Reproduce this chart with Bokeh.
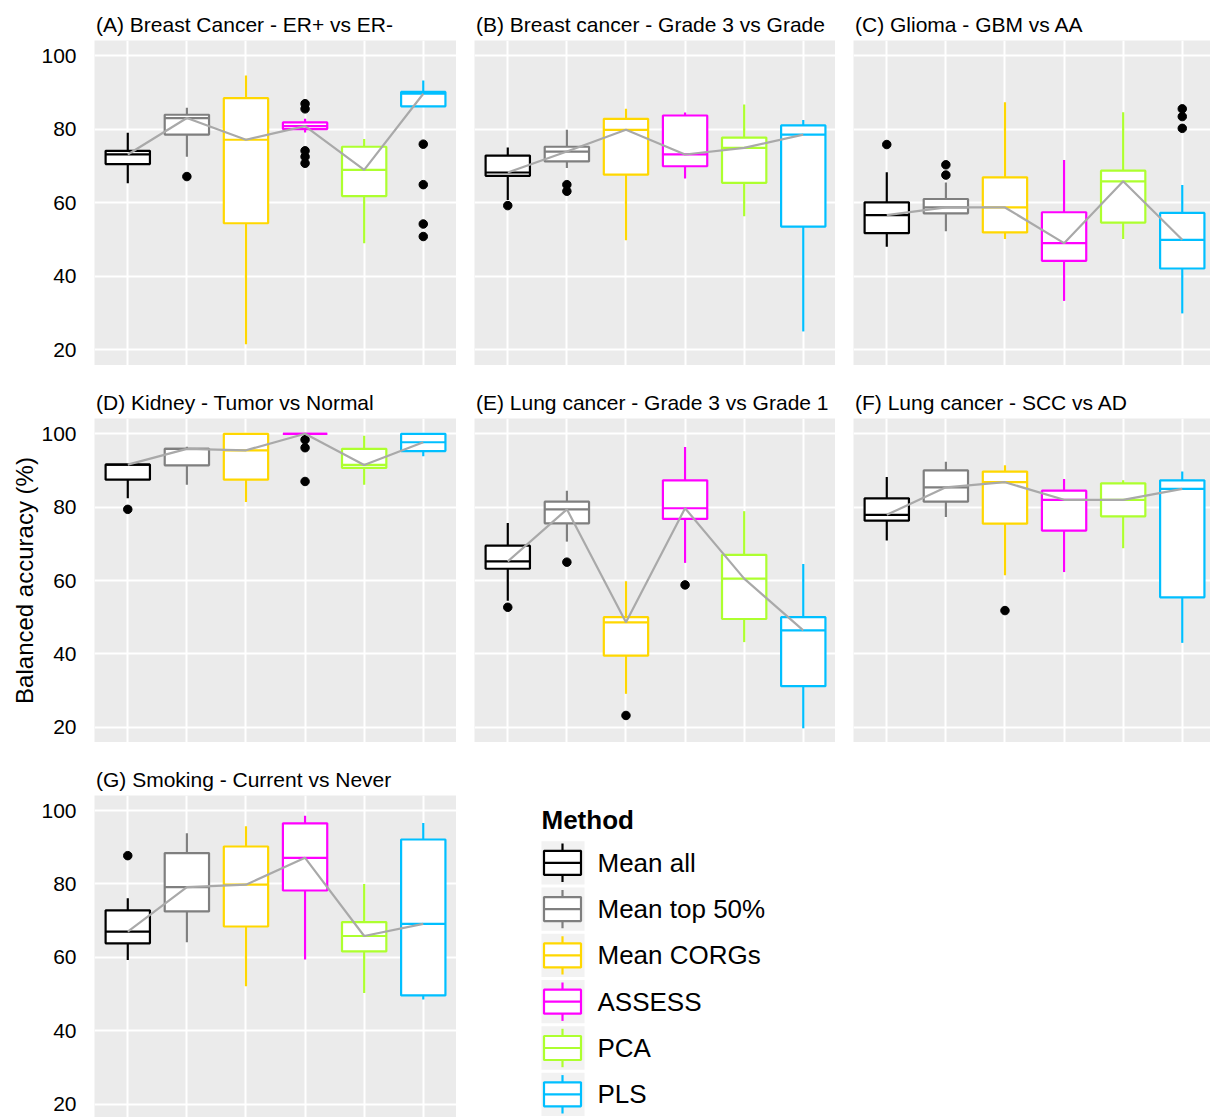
import math
from bokeh.plotting import figure
from bokeh.layouts import row, column
from bokeh.models import Range1d, FixedTicker, ColumnDataSource, Title
from bokeh.core.properties import value
from bokeh.embed import file_html
from bokeh.resources import INLINE

# ---------------- data ----------------
methods = ["Mean all", "Mean top 50%", "Mean CORGs", "ASSESS", "PCA", "PLS"]
colors = ["#000000", "#7F7F7F", "#FFD700", "#FF00FF", "#ADFF2F", "#00BFFF"]
y_ticks = [20, 40, 60, 80, 100]
y_label = "Balanced accuracy (%)"
legend_title = "Method"

title_A = "(A) Breast Cancer - ER+ vs ER-"
A_low = [65.3, 72.5, 21.5, 79.1, 49.0, 86.2]
A_q1 = [70.5, 78.5, 54.4, 80.0, 61.8, 86.2]
A_med = [73.1, 83.0, 77.1, 80.8, 68.9, 89.6]
A_q3 = [74.1, 83.9, 88.4, 81.8, 75.2, 90.1]
A_high = [79.0, 85.8, 94.6, 82.8, 77.3, 93.2]
A_out_m = [2, 4, 4, 4, 4, 4, 6, 6, 6, 6]
A_out_v = [67.1, 86.9, 85.5, 74.1, 72.5, 70.7, 75.9, 64.9, 54.2, 50.8]

title_B = "(B) Breast cancer - Grade 3 vs Grade"
B_low = [60.7, 69.4, 49.8, 66.6, 56.3, 25.0]
B_q1 = [67.3, 71.2, 67.6, 69.9, 65.4, 53.5]
B_med = [68.2, 73.9, 79.8, 73.1, 74.9, 78.5]
B_q3 = [72.8, 75.2, 82.8, 83.7, 77.7, 81.0]
B_high = [75.0, 79.8, 85.5, 84.5, 86.7, 82.5]
B_out_m = [1, 2, 2]
B_out_v = [59.2, 64.9, 63.1]

title_C = "(C) Glioma - GBM vs AA"
C_low = [48.0, 52.2, 50.1, 33.3, 50.1, 29.9]
C_q1 = [51.7, 57.1, 51.9, 44.2, 54.6, 42.1]
C_med = [56.6, 58.7, 58.7, 49.0, 65.8, 49.9]
C_q3 = [60.1, 61.0, 66.9, 57.4, 68.7, 57.2]
C_high = [68.3, 65.5, 87.3, 71.6, 84.6, 64.8]
C_out_m = [1, 2, 2, 6, 6, 6]
C_out_v = [75.8, 70.3, 67.5, 85.5, 83.4, 80.2]

title_D = "(D) Kidney - Tumor vs Normal"
D_low = [82.4, 86.1, 81.4, 100.0, 86.1, 93.9]
D_q1 = [87.5, 91.4, 87.5, 100.0, 90.7, 95.3]
D_med = [91.6, 95.9, 95.5, 100.0, 91.5, 97.7]
D_q3 = [91.6, 95.9, 100.0, 100.0, 95.9, 100.0]
D_high = [91.6, 96.5, 100.0, 100.0, 99.5, 100.0]
D_out_m = [1, 4, 4, 4]
D_out_v = [79.4, 98.4, 96.2, 87.0]

title_E = "(E) Lung cancer - Grade 3 vs Grade 1"
E_low = [54.5, 70.6, 29.1, 64.8, 43.2, 19.7]
E_q1 = [63.2, 75.6, 39.5, 76.8, 49.5, 31.2]
E_med = [65.2, 79.4, 48.6, 79.7, 60.5, 46.4]
E_q3 = [69.5, 81.5, 50.0, 87.3, 67.0, 50.0]
E_high = [75.7, 84.5, 59.8, 96.4, 78.9, 64.5]
E_out_m = [1, 2, 3, 4]
E_out_v = [52.7, 65.0, 23.2, 58.8]

title_F = "(F) Lung cancer - SCC vs AD"
F_low = [70.9, 77.3, 61.4, 62.3, 68.8, 43.0]
F_q1 = [76.3, 81.5, 75.5, 73.6, 77.5, 55.4]
F_med = [77.9, 85.4, 86.8, 82.0, 82.0, 85.0]
F_q3 = [82.4, 90.0, 89.7, 84.5, 86.5, 87.3]
F_high = [88.2, 92.4, 91.4, 87.7, 87.3, 89.7]
F_out_m = [3]
F_out_v = [51.8]

title_G = "(G) Smoking - Current vs Never"
G_low = [59.3, 64.1, 52.1, 59.4, 50.3, 48.5]
G_q1 = [63.8, 72.5, 68.4, 78.2, 61.6, 49.6]
G_med = [67.0, 79.1, 79.8, 87.1, 65.8, 69.1]
G_q3 = [72.8, 88.4, 90.2, 96.5, 69.6, 92.1]
G_high = [76.1, 93.8, 95.7, 98.6, 80.0, 96.6]
G_out_m = [1]
G_out_v = [87.7]

# ---------------- styling ----------------
FONT = "Liberation Sans"
PX_PER_CAT = 59.1
X0 = 0.437
BOX_W = 0.75
PANEL_BG = "#EBEBEB"
LW_BOX = 2.2


def make_panel(title, low, q1, med, q3, high, out_m, out_v,
               frame_w, frame_h, left, top, yr, show_y):
    fig = figure(width=left + frame_w, height=top + frame_h,
                 output_backend="svg", toolbar_location=None,
                 x_range=Range1d(X0, X0 + frame_w / PX_PER_CAT),
                 y_range=Range1d(*yr),
                 x_axis_location=None,
                 y_axis_location="left" if show_y else None,
                 min_border_left=left, min_border_right=0,
                 min_border_top=top, min_border_bottom=0,
                 title=title)
    fig.background_fill_color = PANEL_BG
    fig.border_fill_color = "white"
    fig.outline_line_color = None
    fig.xgrid.ticker = FixedTicker(ticks=[1, 2, 3, 4, 5, 6])
    fig.ygrid.ticker = FixedTicker(ticks=y_ticks)
    fig.grid.grid_line_color = "white"
    fig.grid.grid_line_width = 2
    fig.grid.minor_grid_line_color = None

    fig.title.text_font = FONT
    fig.title.text_font_size = "21px"
    fig.title.text_font_style = "normal"
    fig.title.text_color = "black"
    fig.title.align = "left"
    fig.title.offset = 1.5
    fig.title.standoff = 9

    if show_y:
        ax = fig.yaxis[0]
        ax.ticker = FixedTicker(ticks=y_ticks)
        ax.major_label_text_font = FONT
        ax.major_label_text_font_size = "21px"
        ax.major_label_text_color = "black"
        ax.major_tick_out = 0
        ax.major_tick_in = 0
        ax.minor_tick_out = 0
        ax.minor_tick_in = 0
        ax.axis_line_color = None
        ax.major_label_standoff = 18

    xs = list(range(1, len(methods) + 1))
    src = ColumnDataSource(dict(
        x=xs, x0=[x - BOX_W / 2 for x in xs], x1=[x + BOX_W / 2 for x in xs],
        low=low, q1=q1, med=med, q3=q3, high=high, color=colors))
    fig.segment(x0="x", y0="q3", x1="x", y1="high", line_color="color",
                line_width=LW_BOX, source=src)
    fig.segment(x0="x", y0="q1", x1="x", y1="low", line_color="color",
                line_width=LW_BOX, source=src)
    fig.vbar(x="x", width=BOX_W, bottom="q1", top="q3", fill_color="white",
             line_color="color", line_width=LW_BOX, source=src)
    fig.segment(x0="x0", y0="med", x1="x1", y1="med", line_color="color",
                line_width=LW_BOX, source=src)
    fig.scatter(x=out_m, y=out_v, size=8.5, color="black", marker="circle")
    fig.line(x="x", y="med", line_color="#A9A9A9", line_width=2.2, source=src)
    return fig


YR1 = (15.74, 104.08)
YR2 = (15.83, 104.17)
YR3 = (16.35, 104.09)

fA = make_panel(title_A, A_low, A_q1, A_med, A_q3, A_high, A_out_m, A_out_v, 362, 325, 94, 40, YR1, True)
fB = make_panel(title_B, B_low, B_q1, B_med, B_q3, B_high, B_out_m, B_out_v, 361, 325, 18, 40, YR1, False)
fC = make_panel(title_C, C_low, C_q1, C_med, C_q3, C_high, C_out_m, C_out_v, 357, 325, 18, 40, YR1, False)
fD = make_panel(title_D, D_low, D_q1, D_med, D_q3, D_high, D_out_m, D_out_v, 362, 324, 94, 53, YR2, True)
fE = make_panel(title_E, E_low, E_q1, E_med, E_q3, E_high, E_out_m, E_out_v, 361, 324, 18, 53, YR2, False)
fF = make_panel(title_F, F_low, F_q1, F_med, F_q3, F_high, F_out_m, F_out_v, 357, 324, 18, 53, YR2, False)
fG = make_panel(title_G, G_low, G_q1, G_med, G_q3, G_high, G_out_m, G_out_v, 362, 322, 94, 53, YR3, True)

# y-axis title (spans all rows), placed on the left of panel D
fD.add_layout(Title(text=y_label, align="center", offset=-10, standoff=2,
                    text_font=FONT, text_font_size="24px",
                    text_font_style="normal", text_color="black"), "left")

# ---------------- legend ----------------
LW, LFH, LTOP = 754, 322, 53
leg = figure(width=LW, height=LFH + LTOP, output_backend="svg", toolbar_location=None,
             x_range=Range1d(0, LW), y_range=Range1d(0, LFH),
             x_axis_location=None, y_axis_location=None,
             min_border=0, min_border_left=0, min_border_right=0,
             min_border_top=LTOP, min_border_bottom=0)
leg.grid.visible = False
leg.outline_line_color = None
leg.background_fill_color = "white"
leg.border_fill_color = "white"

KEY_X = 106.5
KEY_TOP = 254.7
KEY_STEP = 46.3
ky = [KEY_TOP - i * KEY_STEP for i in range(len(methods))]
lsrc = ColumnDataSource(dict(
    y=ky, yt=[v + 19.2 for v in ky], yb=[v - 19.2 for v in ky],
    color=colors, label=methods))
leg.rect(x=KEY_X, y="y", width=43, height=43.3, fill_color="#F2F2F2",
         line_color=None, source=lsrc)
leg.segment(x0=KEY_X - 0.5, y0="yb", x1=KEY_X - 0.5, y1="yt", line_color="color",
            line_width=LW_BOX, source=lsrc)
leg.rect(x=KEY_X - 0.5, y="y", width=37, height=24, fill_color="white",
         line_color="color", line_width=LW_BOX, source=lsrc)
leg.segment(x0=KEY_X - 19, y0="y", x1=KEY_X + 18, y1="y", line_color="color",
            line_width=LW_BOX, source=lsrc)
leg.text(x=141, y="y", text="label", text_font=value(FONT), text_font_size="26px",
         text_baseline="middle", text_align="left", text_color="black", source=lsrc)
leg.text(x=[85], y=[298], text=[legend_title], text_font=value(FONT),
         text_font_size="26px", text_font_style="bold", text_baseline="middle",
         text_align="left", text_color="black")

layout = column(row(fA, fB, fC), row(fD, fE, fF), row(fG, leg))

open("out.html", "w").write(file_html(layout, INLINE))
